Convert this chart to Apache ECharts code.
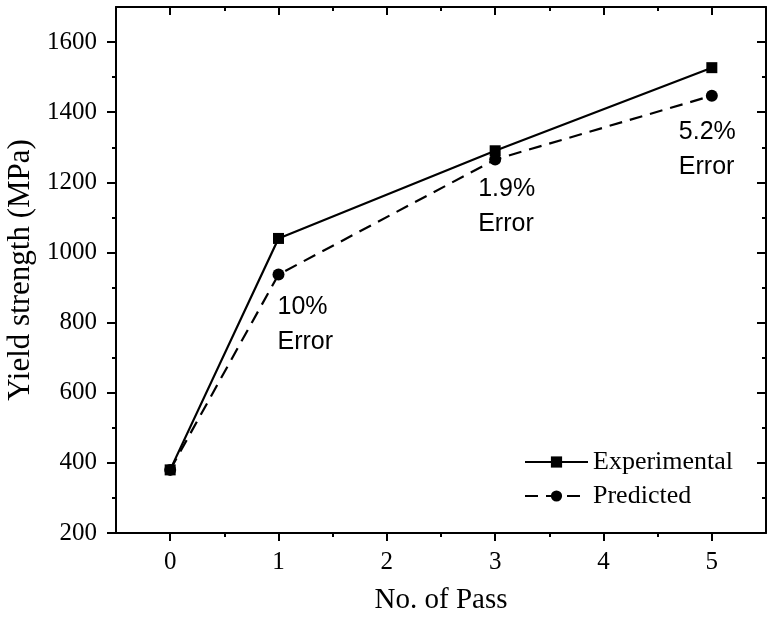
<!DOCTYPE html>
<html>
<head>
<meta charset="utf-8">
<script src="https://cdn.jsdelivr.net/npm/echarts@6/dist/echarts.min.js"></script>
<style>html,body{margin:0;padding:0;background:#fff}#c{width:767px;height:623px}</style>
</head>
<body>
<div id="c"></div>
<script>
const passes = [0, 1, 3, 5];
const experimental = [380, 1040, 1290, 1527];
const predicted = [380, 937, 1265, 1447];
const annX = [1, 3, 5];
const annY = [937, 1265, 1447];
const annText = ['10%\nError', '1.9%\nError', '5.2%\nError'];
const xMajorTicks = [0, 1, 2, 3, 4, 5];
const xMinorTicks = [0.5, 1.5, 2.5, 3.5, 4.5];
const yMajorTicks = [200, 400, 600, 800, 1000, 1200, 1400, 1600];
const yMinorTicks = [300, 500, 700, 900, 1100, 1300, 1500];
const xRange = [-0.5, 5.5];
const yRange = [200, 1700];

const annOffsets = [[-1, 15.5], [-17, 12.5], [-33, 18.5]];
const serif = '"Liberation Serif", "Times New Roman", serif';
const sans = '"Liberation Sans", Arial, sans-serif';

function xAx(pos, major, inside, extra) {
  return Object.assign({
    type: 'value', position: pos, min: xRange[0], max: xRange[1],
    splitLine: { show: false },
    axisLine: { show: major, onZero: false, lineStyle: { color: '#000', width: 2 } },
    axisTick: { show: true, inside: inside, length: major ? 8 : 4,
      customValues: major ? xMajorTicks : xMinorTicks,
      lineStyle: { color: '#000', width: 2 } },
    axisLabel: { show: false }
  }, extra || {});
}
function yAx(pos, major, inside, extra) {
  return Object.assign({
    type: 'value', position: pos, min: yRange[0], max: yRange[1],
    splitLine: { show: false },
    axisLine: { show: major, onZero: false, lineStyle: { color: '#000', width: 2 } },
    axisTick: { show: true, inside: inside, length: major ? 9 : 4,
      customValues: major ? yMajorTicks : yMinorTicks,
      lineStyle: { color: '#000', width: 2 } },
    axisLabel: { show: false }
  }, extra || {});
}

const chart = echarts.init(document.getElementById('c'));
chart.setOption({
  animation: false,
  backgroundColor: '#fff',
  grid: { left: 116, right: 1, top: 7, bottom: 90, outerBoundsMode: 'none', containLabel: false },
  legend: {
    orient: 'vertical', left: 519, top: 444, itemGap: 8,
    itemWidth: 63, itemHeight: 14,
    textStyle: { fontFamily: serif, fontSize: 26, color: '#000' },
    data: ['Experimental', 'Predicted']
  },
  xAxis: [
    xAx('bottom', true, false, {
      name: 'No. of Pass', nameLocation: 'middle', nameGap: 53,
      nameTextStyle: { fontFamily: serif, fontSize: 29, color: '#000' },
      axisLabel: { show: true, customValues: xMajorTicks, margin: 17,
        fontFamily: serif, fontSize: 25, color: '#000',
        formatter: v => String(v) }
    }),
    xAx('bottom', false, false),
    xAx('top', true, true),
    xAx('top', false, true)
  ],
  yAxis: [
    yAx('left', true, false, {
      name: 'Yield strength (MPa)', nameLocation: 'middle', nameGap: 70,
      nameTextStyle: { fontFamily: serif, fontSize: 31, color: '#000' },
      axisLabel: { show: true, customValues: yMajorTicks, margin: 19,
        fontFamily: serif, fontSize: 25, color: '#000',
        formatter: v => String(v) }
    }),
    yAx('left', false, false),
    yAx('right', true, true),
    yAx('right', false, true)
  ],
  series: [
    {
      name: 'Experimental', type: 'line', xAxisIndex: 0, yAxisIndex: 0,
      data: passes.map((p, i) => [p, experimental[i]]),
      symbol: 'rect', symbolSize: 11, showAllSymbol: true,
      lineStyle: { color: '#000', width: 2.2 },
      itemStyle: { color: '#000' }, z: 3
    },
    {
      name: 'Predicted', type: 'line', xAxisIndex: 0, yAxisIndex: 0,
      data: passes.map((p, i) => [p, predicted[i]]),
      symbol: 'circle', symbolSize: 12, showAllSymbol: true,
      lineStyle: { color: '#000', width: 2.2, type: [13, 8] },
      itemStyle: { color: '#000' }, z: 4
    },
    {
      name: 'annotations', type: 'scatter', xAxisIndex: 0, yAxisIndex: 0,
      symbolSize: 0, silent: true,
      itemStyle: { color: '#000', opacity: 1 },
      data: annX.map((x, i) => ({
        value: [x, annY[i]],
        label: { show: true, formatter: annText[i], position: annOffsets[i],
          color: '#000', opacity: 1 }
      })),
      label: { show: true, align: 'left', verticalAlign: 'top',
        fontFamily: sans, fontSize: 25, lineHeight: 35, color: '#000' }
    }
  ]
});
</script>
</body>
</html>
